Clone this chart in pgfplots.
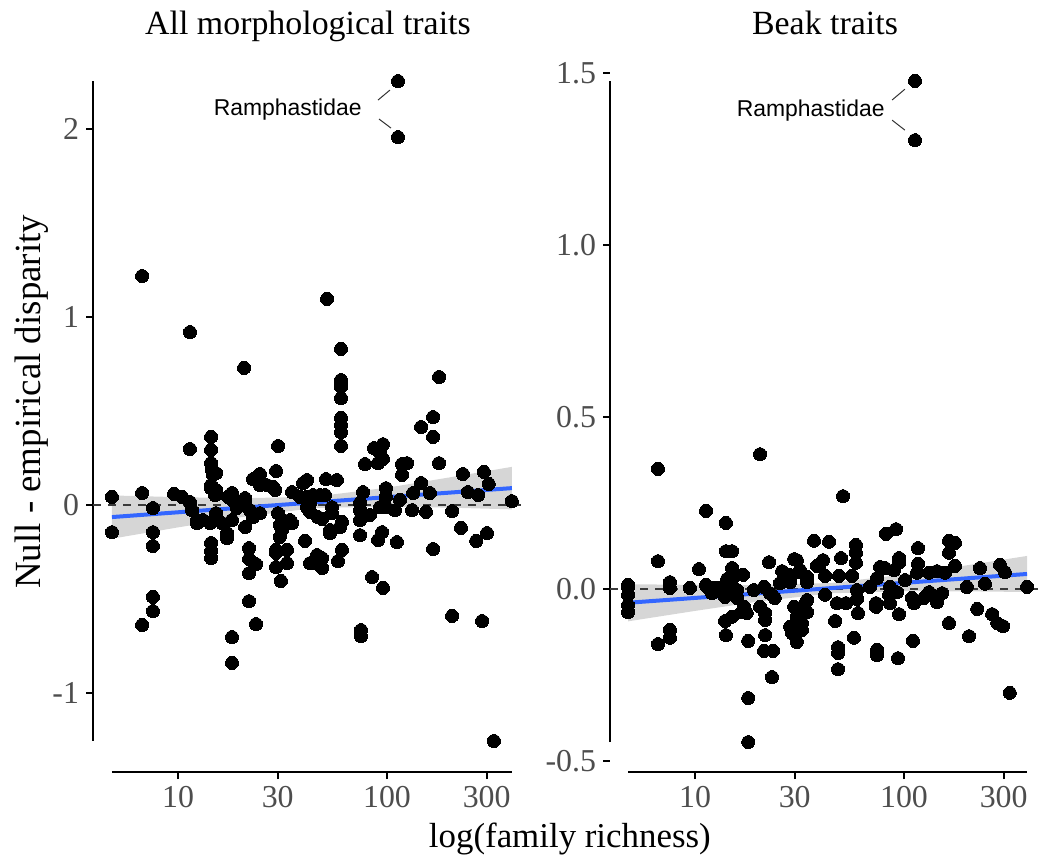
\documentclass[border=0pt]{standalone}
\usepackage{fontspec}
\setmainfont{Liberation Serif}
\newfontfamily\labelfont{Liberation Sans}
\usepackage{pgfplots}
\pgfplotsset{compat=1.18}
\definecolor{tickgrey}{HTML}{4D4D4D}
\definecolor{smoothblue}{HTML}{3366FF}
\definecolor{bandgrey}{HTML}{999999}
\definecolor{hlinegrey}{HTML}{3A3A3A}

\pgfplotsset{
  rfdots/.style={only marks, mark=*, mark size=3.25bp,
               mark options={fill=black, draw=black, line width=0pt}},
  rfband/.style={draw=none, fill=bandgrey, fill opacity=0.4},
  rfframe/.style={black, line width=1bp},
}

\begin{document}
\begin{tikzpicture}
\path[use as bounding box] (0,0) rectangle (522.5bp,-430bp);

% all morphological traits
\begin{axis}[
  xmode=log,
  scale only axis, width=215bp, height=361.5bp,
  xmin=3.92, xmax=447.5,
  xtick={10,30,100,300}, xticklabels={10,30,100,300},
  axis x line*=bottom, axis y line*=left,
  axis line style={draw=none},
  tick align=outside, major tick length=3.5bp,
  tick style={black, line width=0.8bp},
  ticklabel style={font=\fontsize{16}{16}\selectfont, text=tickgrey},
  title style={font=\fontsize{17}{17}\selectfont, anchor=base, yshift=-6pt,
               at={(axis description cs:0.5,1.0207)}},
  clip=false,
  at={(46.5bp,-386bp)}, anchor=south west,
  ymin=-1.420, ymax=2.4255,
  ytick={-1,0,1,2}, yticklabels={-1,0,1,2},
  title={All morphological traits},
  ylabel={Null - empirical disparity},
  ylabel style={font=\fontsize{18.5}{18.5}\selectfont, anchor=base,
                at={(axis description cs:-0.123,0.512)}},
  xlabel={log(family richness)},
  xlabel style={font=\fontsize{17.5}{17.5}\selectfont, anchor=base,
                at={(axis description cs:1.109,-0.105)}},
]
\addplot[rfframe] coordinates {(4.83,-1.420) (396,-1.420)};
\addplot[rfframe] coordinates {(3.92,-1.255) (3.92,2.255)};
\addplot[rfdots] coordinates {
(6.73,1.218)(11.41,0.920)(20.70,0.729)(14.39,0.362)(11.41,0.298)(14.39,0.293)(30.10,0.314)(14.39,0.223)(14.55,0.186)(15.21,0.170)(29.44,0.181)(24.67,0.165)(22.85,0.138)(41.43,0.133)
(4.83,0.043)(4.83,-0.144)(6.73,0.064)(7.59,-0.016)(7.59,-0.144)(7.59,-0.218)(7.59,-0.489)(7.59,-0.564)(6.73,-0.638)
(9.57,0.059)(10.45,0.043)(11.41,0.016)(11.67,-0.027)(12.33,-0.080)(12.33,-0.096)(13.18,-0.080)(14.24,-0.096)(14.39,-0.202)(14.39,-0.245)(14.39,-0.282)
(14.70,0.160)(14.39,0.106)(14.39,0.090)(15.21,0.080)(15.04,0.053)(15.21,-0.043)(16.25,-0.096)(17.16,-0.149)(17.16,-0.176)
(18.13,0.064)(17.35,0.043)(18.13,0.027)(18.13,-0.080)(18.13,-0.702)(18.13,-0.840)(19.14,-0.016)
(20.93,0.037)(20.93,0.011)(20.93,-0.117)(21.87,-0.229)(21.87,-0.287)(23.62,-0.314)(21.87,-0.362)(21.87,-0.511)(23.62,-0.633)
(24.67,0.106)(26.64,0.106)(28.50,0.096)(29.13,0.080)(22.10,-0.027)(24.67,-0.043)(22.85,-0.064)
(35.13,0.069)(38.34,0.043)(39.64,0.117)(42.83,0.011)(30.10,-0.043)(31.80,-0.080)(34.36,-0.080)(35.13,-0.096)(30.73,-0.106)(31.44,-0.133)(30.73,-0.170)
(29.44,-0.239)(29.44,-0.255)(33.23,-0.239)(29.44,-0.330)(33.23,-0.309)(31.09,-0.404)(40.53,-0.191)(42.83,-0.309)
(51.08,0.138)(57.62,0.133)(44.28,0.053)(47.82,0.053)(50.5,0.053)(41.43,0.043)(41.43,-0.011)(42.83,-0.037)(46.78,-0.064)(48.88,-0.074)
(54.56,-0.011)(54.56,-0.043)(60.91,-0.090)(59.59,-0.117)(53.37,-0.133)(53.37,-0.149)
(46.27,-0.266)(48.88,-0.282)(44.28,-0.309)(48.88,-0.335)(60.91,-0.239)(58.29,-0.298)
(74.3,-0.080)(74.3,-0.160)(82.9,-0.053)(76.8,0.069)(74.3,0.011)(74.3,-0.027)(84.8,-0.383)(95.7,-0.441)(75.1,-0.665)(75.1,-0.697)
(94.7,-0.144)(90.6,-0.186)(98.9,0.090)(98.9,0.043)(92.6,-0.011)(98.9,-0.011)(111.6,-0.197)(109.2,-0.027)(115.4,0.027)(118.0,0.160)
(131.8,-0.027)(133.2,0.064)(145.5,0.117)(153.7,-0.037)(160.6,0.064)(166.1,-0.234)(204.8,-0.590)(204.8,-0.032)(226,-0.122)(231,0.165)
(244,0.069)(267,-0.191)(273,0.053)(291,0.176)(307,0.112)(301,-0.149)(285,-0.617)(396,0.021)
(51.64,1.096)(60.25,0.830)(60.25,0.665)(60.25,0.649)(60.25,0.628)(60.25,0.569)(60.25,0.463)(60.25,0.426)(60.25,0.388)(60.25,0.314)
(177.4,0.681)(166.1,0.468)(145.5,0.415)(166.1,0.362)(86.7,0.303)(95.7,0.324)(92.6,0.277)(90.6,0.223)(95.7,0.245)(78.5,0.218)(118.0,0.218)(124.7,0.223)(177.4,0.223)
(112.9,2.255)(112.9,1.957)(325,-1.255)
};
\addplot[rfband] coordinates {
(4.83,0.051)(10,0.042)(19.95,0.036)(44.67,0.044)(100,0.092)(199.5,0.147)(396,0.203)
(396,-0.023)(199.5,-0.014)(100,-0.008)(44.67,-0.016)(19.95,-0.065)(10,-0.119)(4.83,-0.179)
} -- cycle;
\addplot[hlinegrey, line width=0.8bp, dash pattern=on 4bp off 3.5bp] coordinates {(3.92,0) (447.5,0)};
\addplot[smoothblue, line width=2bp] coordinates {(4.83,-0.064) (396,0.090)};
% label
\addplot[black!80, line width=0.5bp] coordinates {(90.6,2.154) (103.3,2.207)};
\addplot[black!80, line width=0.5bp] coordinates {(91.6,2.053) (104.5,2.005)};
\node[font=\labelfont\fontsize{11.5}{11.5}\selectfont, anchor=east, inner sep=0pt]
  at (axis cs:75.9,2.101) {Ramphastidae};
\end{axis}

% beak traits
\begin{axis}[
  xmode=log,
  scale only axis, width=215bp, height=361.5bp,
  xmin=3.92, xmax=447.5,
  xtick={10,30,100,300}, xticklabels={10,30,100,300},
  axis x line*=bottom, axis y line*=left,
  axis line style={draw=none},
  tick align=outside, major tick length=3.5bp,
  tick style={black, line width=0.8bp},
  ticklabel style={font=\fontsize{16}{16}\selectfont, text=tickgrey},
  title style={font=\fontsize{17}{17}\selectfont, anchor=base, yshift=-6pt,
               at={(axis description cs:0.5,1.0207)}},
  clip=false,
  at={(305bp,-386bp)}, anchor=south west,
  ymin=-0.532, ymax=1.5698,
  ytick={-0.5,0,0.5,1,1.5}, yticklabels={-0.5,0.0,0.5,1.0,1.5},
  title={Beak traits},
]
\addplot[rfframe] coordinates {(4.78,-0.532) (388,-0.532)};
\addplot[rfframe] coordinates {(3.92,-0.445) (3.92,1.477)};
\addplot[rfdots] coordinates {
(6.65,0.349)(20.47,0.392)(11.29,0.227)(14.06,0.192)(14.06,0.110)(15.04,0.110)(6.65,0.081)(10.45,0.058)(15.04,0.061)(22.6,0.078)(29.8,0.087)(37.1,0.140)
(16.98,0.041)(26.1,0.052)(28.2,0.041)(31.44,0.049)(28.5,0.032)(34.36,0.035)(14.24,0.029)(15.04,0.029)(38.34,0.067)
(4.78,0.012)(7.59,0.020)(11.29,0.012)(9.46,0.003)(12.33,0.003)
(51.08,0.270)(43.8,0.137)(58.9,0.128)(58.9,0.105)(58.9,0.076)(49.97,0.090)(40.97,0.084)(39.2,0.067)(30.73,0.084)(31.80,0.055)(41.9,0.038)(48.88,0.038)(56.4,0.038)
(82.0,0.160)(91.6,0.174)(116.7,0.119)(164.2,0.140)(175.4,0.134)(164.2,0.105)(94.7,0.090)(94.7,0.076)(76.8,0.064)(81.1,0.061)(89.6,0.055)(116.7,0.073)(175.4,0.067)
(115.4,0.047)(131.8,0.047)(143.9,0.052)(157.1,0.047)(231,0.061)(288,0.070)(304,0.049)(74.3,0.032)(101.2,0.026)(200,0.006)(244,0.015)(388,0.006)
(4.78,0.006)(4.78,-0.017)(4.78,-0.047)(4.78,-0.067)(7.59,0.003)(7.59,-0.119)(7.59,-0.142)(6.65,-0.160)
(11.41,0.006)(12.06,-0.012)(13.18,0.003)(13.92,-0.023)(14.70,0.012)(15.9,-0.003)(15.9,-0.026)(13.92,-0.093)(15.04,-0.081)(14.06,-0.134)
(17.16,-0.052)(17.7,-0.070)(16.77,-0.067)(17.96,-0.151)(17.96,-0.317)(17.96,-0.445)(20.47,-0.052)(21.64,-0.070)(21.64,-0.090)(21.64,-0.134)
(21.4,-0.180)(23.62,-0.180)(23.35,-0.256)(24.1,-0.026)(22.85,-0.012)(29.8,-0.052)(30.73,-0.081)(34.36,-0.032)(34.36,-0.067)
(28.5,-0.110)(29.13,-0.128)(32.5,-0.099)(32.5,-0.119)(30.73,-0.154)(19.14,-0.003)(21.4,0.006)(25.5,0.017)(28.5,0.020)
(33.23,-0.047)(31.44,-0.084)(41.9,-0.017)(47.82,-0.041)(52.8,-0.041)(59.59,-0.029)(46.78,-0.093)(60.25,-0.070)(57.62,-0.142)
(48.35,-0.169)(48.35,-0.186)(48.35,-0.233)(73.5,-0.041)(73.5,-0.052)(74.3,-0.177)(74.3,-0.192)(85.7,-0.041)(84.8,-0.017)(94.7,-0.073)(93.6,-0.201)
(109.2,-0.026)(111.6,-0.041)(110.4,-0.151)(124.7,-0.026)(131.8,-0.009)(143.9,-0.038)(152.1,-0.012)(164.2,-0.099)(224,-0.058)(204.8,-0.137)
(264,-0.073)(279,-0.099)(298,-0.108)(321,-0.302)(34.36,0.020)(59.59,-0.003)(68.7,0.006)(85.7,0.006)(92.6,-0.009)
(112.9,1.477)(112.9,1.305)
};
\addplot[rfband] coordinates {
(4.78,0.014)(10,0.0119)(19.95,0.0112)(44.67,0.0175)(100,0.0419)(199.5,0.0688)(388,0.0961)
(388,-0.0087)(199.5,-0.0068)(100,-0.0061)(44.67,-0.0125)(19.95,-0.0368)(10,-0.0637)(4.78,-0.094)
} -- cycle;
\addplot[hlinegrey, line width=0.8bp, dash pattern=on 4bp off 3.5bp] coordinates {(3.92,0) (447.5,0)};
\addplot[smoothblue, line width=2bp] coordinates {(4.78,-0.040) (388,0.0437)};
\addplot[black!80, line width=0.5bp] coordinates {(87.7,1.4215) (101,1.453)};
\addplot[black!80, line width=0.5bp] coordinates {(87.7,1.363) (101,1.334)};
\node[font=\labelfont\fontsize{11.5}{11.5}\selectfont, anchor=east, inner sep=0pt]
  at (axis cs:81.1,1.392) {Ramphastidae};
\end{axis}
\end{tikzpicture}
\end{document}
